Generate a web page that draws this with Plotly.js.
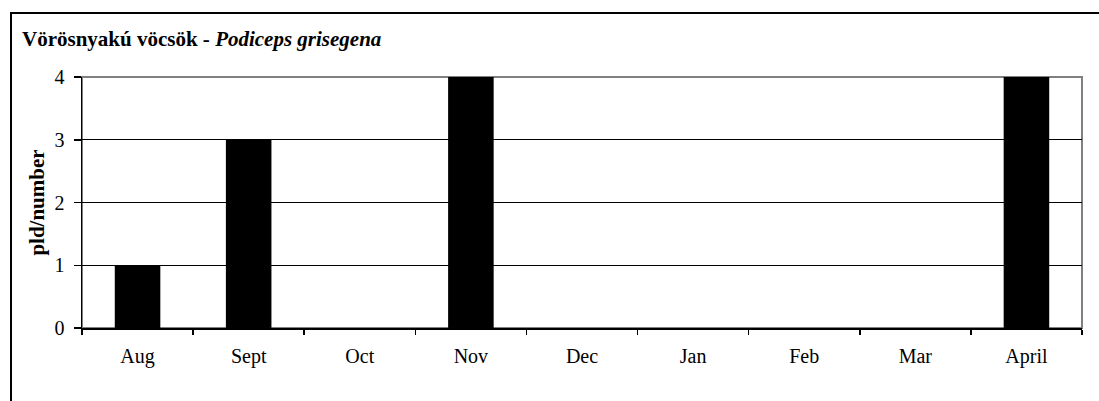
<!DOCTYPE html>
<html>
<head>
<meta charset="utf-8">
<script src="https://cdn.plot.ly/plotly-3.0.1.min.js"></script>
<style>
html,body{margin:0;padding:0;background:#fff;}
#frame{position:absolute;left:10px;top:12px;width:1100px;height:400px;border-left:2px solid #000;border-top:2px solid #000;box-sizing:border-box;pointer-events:none;z-index:5;}
#chart{position:absolute;left:0;top:0;width:1099px;height:401px;}
</style>
</head>
<body>
<div id="chart"></div>
<div id="frame"></div>
<script>
const months = ['Aug','Sept','Oct','Nov','Dec','Jan','Feb','Mar','April'];
const counts = [1,3,0,4,0,0,0,0,4];
const titleText = '<b>Vörösnyakú vöcsök - <i>Podiceps grisegena</i></b>';
const yTitle = '<b>pld/number</b>';

const font = '"Liberation Serif", "Times New Roman", serif';

Plotly.newPlot('chart', [{
  type: 'bar',
  x: months,
  y: counts,
  marker: {color: '#000', line: {width: 0}},
  hoverinfo: 'x+y'
}], {
  width: 1099, height: 401,
  margin: {l: 82, r: 17, t: 77, b: 73},
  paper_bgcolor: '#fff', plot_bgcolor: '#fff',
  bargap: 0.59,
  showlegend: false,
  font: {family: font, size: 20, color: '#000'},
  title: {text: titleText, font: {family: font, size: 21, color: '#000'},
          xref: 'container', yref: 'container', x: 22/1099, xanchor: 'left', y: 1 - 39/401, yanchor: 'middle'},
  xaxis: {
    type: 'category',
    showline: true, linecolor: '#000', linewidth: 1.5,
    ticks: 'outside', tickson: 'boundaries', ticklen: 5, tickcolor: '#000', tickwidth: 1.5,
    showgrid: false, zeroline: false,
    tickfont: {family: font, size: 20, color: '#000'},
    ticklabelstandoff: 9
  },
  yaxis: {
    range: [0, 4], dtick: 1,
    showline: true, linecolor: '#000', linewidth: 1.5,
    ticks: 'outside', ticklen: 7, tickcolor: '#000', tickwidth: 1.5,
    showgrid: true, gridcolor: '#000', gridwidth: 1.2,
    zeroline: false,
    tickfont: {family: font, size: 20, color: '#000'},
    ticklabelstandoff: 5,
    title: {text: yTitle, font: {family: font, size: 21, color: '#000'}, standoff: 4}
  },
  shapes: [{type: 'rect', xref: 'paper', yref: 'paper', x0: 0, x1: 1, y0: 0, y1: 1,
            line: {color: '#808080', width: 2}, layer: 'below'}]
}, {displayModeBar: false, staticPlot: true});
</script>
</body>
</html>
